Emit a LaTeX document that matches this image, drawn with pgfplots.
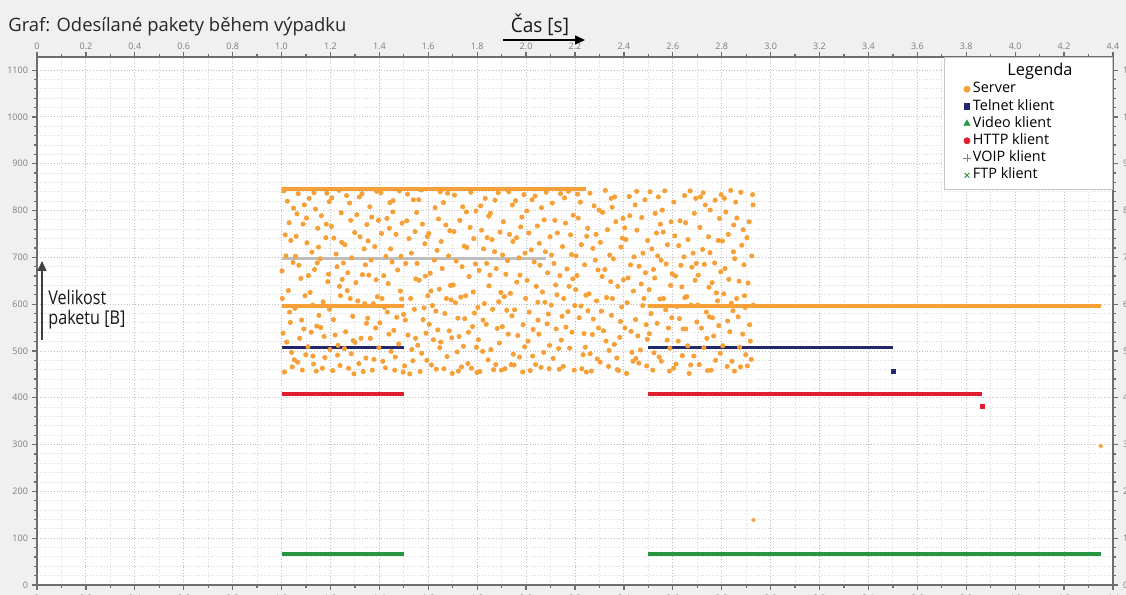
\documentclass[border=0pt]{standalone}
\usepackage{graphicx}
\usepackage{pgfplots}
\pgfplotsset{compat=1.18}
\usepackage{fontspec}
\setmainfont{Open Sans}
\usetikzlibrary{arrows.meta}

\definecolor{srv}{RGB}{247,160,55}
\definecolor{tel}{RGB}{35,40,110}
\definecolor{vid}{RGB}{40,150,65}
\definecolor{htt}{RGB}{225,30,45}
\definecolor{voip}{RGB}{190,190,190}
\definecolor{ftp}{RGB}{40,140,70}
\definecolor{bg}{RGB}{240,240,240}
\definecolor{axgray}{RGB}{110,110,110}
\definecolor{tickgray}{RGB}{125,125,125}

\pgfplotsset{
  common/.style={
    at={(0pt,0pt)}, anchor=south west, scale only axis,
    width=538pt, height=264pt,
    xmin=0, xmax=4.4, ymin=0, ymax=1128,
    axis line style={axgray, line width=1.4pt},
    xtick={0,0.2,0.4,0.6,0.8,1.0,1.2,1.4,1.6,1.8,2.0,2.2,2.4,2.6,2.8,3.0,3.2,3.4,3.6,3.8,4.0,4.2,4.4},
    xticklabels={0,0.2,0.4,0.6,0.8,1.0,1.2,1.4,1.6,1.8,2.0,2.2,2.4,2.6,2.8,3.0,3.2,3.4,3.6,3.8,4.0,4.2,4.4},
    ytick={0,100,200,300,400,500,600,700,800,900,1000,1100},
    yticklabels={0,100,200,300,400,500,600,700,800,900,1000,1100},
    minor x tick num=1, minor y tick num=4,
    tick align=outside, major tick length=2.5pt, minor tick length=1.5pt,
    tick style={axgray, line width=0.6pt},
    ticklabel style={font=\fontsize{4.5}{5}\selectfont, text=tickgray},
    xtick pos=both, ytick pos=both,
  }
}

\begin{document}
\begin{tikzpicture}
\useasboundingbox[fill=bg] (-18.5pt,-5pt) rectangle (544.5pt,292.5pt);
\begin{scope}
\clip (-18.5pt,-5pt) rectangle (544.5pt,292.5pt);

% axis carrying the bottom and right tick labels (cut by the picture edge)
\begin{axis}[common, xticklabel pos=lower, yticklabel pos=right,
  xticklabel style={yshift=1pt}, yticklabel style={xshift=-1pt}]
\addplot[draw=none, forget plot] coordinates {(0,0)};
\end{axis}

\begin{axis}[common,
  xticklabel style={yshift=-2.5pt},
  yticklabel style={xshift=1.5pt},
  xticklabel pos=upper, yticklabel pos=left,
  axis background/.style={fill=white},
  grid=both,
  major grid style={densely dotted, gray!50, line width=0.45pt},
  minor grid style={densely dotted, gray!30, line width=0.45pt},
  legend style={at={(1,1)}, anchor=north east, draw=gray!45, fill=white,
    font=\fontsize{7.2}{8}\selectfont, row sep=0pt,
    nodes={inner sep=0.8pt, text height=5.4pt, text depth=1.6pt},
    inner xsep=2pt, inner ysep=3pt},
  legend cell align=left,
  legend image code/.code={\path (-9pt,0pt) (2pt,0pt); \draw[#1] plot coordinates {(0pt,0pt)};},
]
\addlegendimage{empty legend}\addlegendentry{\makebox[67pt][c]{\fontsize{8.2}{9}\selectfont Legenda}}
\addlegendimage{mark=*, mark size=1.5pt, color=srv}\addlegendentry{Server}
\addlegendimage{mark=square*, mark size=1.4pt, color=tel}\addlegendentry{Telnet klient}
\addlegendimage{mark=triangle*, mark size=1.7pt, color=vid}\addlegendentry{Video klient}
\addlegendimage{mark=*, mark size=1.5pt, color=htt}\addlegendentry{HTTP klient}
\addlegendimage{mark=+, mark size=1.9pt, color=gray}\addlegendentry{VOIP klient}
\addlegendimage{mark=x, mark size=1.7pt, color=ftp}\addlegendentry{FTP klient}

% Server scattered packets
\addplot[only marks, mark=*, mark size=1.05pt, color=srv, forget plot] coordinates {
(1.003,612)(1.031,774)(1.012,455)(1.047,689)(1.006,538)(1.024,820)(1.041,497)(1.018,703)(1.036,561)(1.009,842)(1.028,629)(1.044,466)(1.015,748)(1.033,583)(1.002,671)(1.049,805)(1.021,519)(1.038,736)
(1.052,481)(1.079,655)(1.063,793)(1.091,547)(1.057,702)(1.085,459)(1.068,836)(1.096,618)(1.074,527)(1.055,591)(1.088,771)(1.071,683)(1.099,492)(1.060,745)(1.082,566)(1.093,812)(1.066,476)
(1.104,731)(1.127,598)(1.142,457)(1.113,826)(1.135,674)(1.108,509)(1.148,762)(1.121,540)(1.139,803)(1.117,625)(1.131,472)(1.146,688)(1.102,784)(1.124,711)(1.144,553)(1.110,661)(1.133,838)(1.128,489)
(1.153,576)(1.181,742)(1.167,463)(1.195,819)(1.158,697)(1.174,531)(1.189,648)(1.163,789)(1.198,503)(1.170,605)(1.185,837)(1.151,722)(1.177,486)(1.192,664)(1.160,550)(1.183,771)(1.196,589)
(1.206,827)(1.231,512)(1.248,653)(1.214,741)(1.239,469)(1.202,596)(1.227,680)(1.244,795)(1.219,534)(1.235,843)(1.209,458)(1.241,618)(1.223,707)(1.212,567)(1.246,732)(1.229,491)(1.204,766)(1.237,638)
(1.257,505)(1.283,779)(1.269,629)(1.296,451)(1.253,688)(1.278,816)(1.291,574)(1.262,541)(1.287,699)(1.274,463)(1.299,753)(1.266,832)(1.281,612)(1.259,727)(1.293,522)(1.271,667)(1.285,494)
(1.304,646)(1.329,836)(1.347,559)(1.316,473)(1.338,718)(1.308,791)(1.325,527)(1.343,684)(1.312,607)(1.334,456)(1.349,770)(1.321,744)(1.301,518)(1.340,601)(1.318,829)(1.331,663)(1.345,485)
(1.354,735)(1.378,482)(1.392,616)(1.361,808)(1.385,549)(1.357,662)(1.371,459)(1.396,779)(1.366,694)(1.389,841)(1.352,570)(1.381,723)(1.375,601)(1.398,507)(1.363,527)(1.387,652)(1.369,786)
(1.402,560)(1.427,702)(1.443,817)(1.414,478)(1.436,644)(1.409,751)(1.421,593)(1.448,499)(1.431,783)(1.406,838)(1.418,661)(1.439,536)(1.425,464)(1.446,718)(1.411,612)(1.433,583)(1.441,762)
(1.452,690)(1.479,515)(1.493,773)(1.463,459)(1.486,628)(1.456,821)(1.471,572)(1.497,455)(1.468,749)(1.482,842)(1.459,544)(1.475,673)(1.491,611)(1.465,487)(1.488,702)(1.499,578)(1.455,797)
(1.503,468)(1.528,612)(1.546,755)(1.517,534)(1.539,823)(1.508,687)(1.524,451)(1.543,589)(1.512,778)(1.533,503)(1.549,654)(1.521,740)(1.506,566)(1.537,479)(1.515,835)(1.531,709)(1.548,527)
(1.552,796)(1.579,567)(1.594,480)(1.563,651)(1.586,729)(1.557,512)(1.571,844)(1.598,618)(1.567,456)(1.583,592)(1.554,687)(1.576,771)(1.591,538)(1.561,823)(1.588,660)(1.573,495)(1.596,744)
(1.604,557)(1.628,806)(1.645,632)(1.613,470)(1.636,715)(1.608,666)(1.621,524)(1.642,782)(1.617,597)(1.633,461)(1.649,840)(1.625,694)(1.602,751)(1.639,545)(1.611,628)(1.647,507)(1.631,585)
(1.653,734)(1.677,488)(1.694,609)(1.662,817)(1.686,543)(1.657,676)(1.672,769)(1.698,452)(1.668,580)(1.683,703)(1.651,519)(1.679,837)(1.691,640)(1.664,462)(1.688,757)(1.674,612)(1.696,528)
(1.702,641)(1.729,779)(1.744,510)(1.714,692)(1.736,466)(1.707,833)(1.721,570)(1.747,724)(1.718,498)(1.733,615)(1.705,755)(1.726,531)(1.741,808)(1.711,603)(1.738,680)(1.723,457)(1.749,569)
(1.756,797)(1.781,552)(1.793,686)(1.762,473)(1.786,740)(1.753,618)(1.774,839)(1.797,508)(1.767,659)(1.789,581)(1.758,721)(1.777,463)(1.795,799)(1.764,540)(1.784,626)(1.771,764)(1.799,454)
(1.803,593)(1.826,718)(1.845,481)(1.814,810)(1.837,557)(1.808,672)(1.822,499)(1.848,639)(1.818,758)(1.833,826)(1.805,524)(1.829,601)(1.841,742)(1.811,456)(1.839,687)(1.824,566)(1.847,788)
(1.852,662)(1.876,471)(1.893,754)(1.863,589)(1.886,838)(1.856,503)(1.871,712)(1.897,625)(1.867,460)(1.882,548)(1.854,794)(1.878,676)(1.891,517)(1.861,738)(1.888,605)(1.873,822)(1.899,459)
(1.904,705)(1.927,536)(1.944,812)(1.913,462)(1.936,623)(1.907,776)(1.921,587)(1.948,493)(1.917,664)(1.932,749)(1.903,552)(1.929,840)(1.942,575)(1.911,616)(1.939,471)(1.924,693)(1.946,734)
(1.953,588)(1.978,765)(1.994,509)(1.962,647)(1.986,455)(1.957,821)(1.971,699)(1.998,612)(1.966,533)(1.983,786)(1.951,470)(1.975,662)(1.991,834)(1.961,742)(1.988,556)(1.973,487)(1.996,709)
(2.004,651)(2.027,489)(2.046,767)(2.013,583)(2.037,831)(2.008,521)(2.021,716)(2.048,604)(2.017,458)(2.033,690)(2.003,799)(2.029,546)(2.042,638)(2.011,752)(2.039,471)(2.024,823)(2.049,566)
(2.054,730)(2.077,604)(2.094,462)(2.063,806)(2.086,558)(2.057,683)(2.072,497)(2.098,744)(2.067,626)(2.082,839)(2.052,536)(2.079,712)(2.091,579)(2.061,465)(2.088,667)(2.074,780)(2.096,512)
(2.103,598)(2.128,752)(2.144,523)(2.114,687)(2.136,461)(2.107,816)(2.121,641)(2.147,574)(2.118,779)(2.133,505)(2.104,705)(2.126,620)(2.141,836)(2.111,484)(2.138,661)(2.123,547)(2.149,723)
(2.152,467)(2.176,638)(2.193,790)(2.163,551)(2.186,706)(2.157,827)(2.171,584)(2.197,459)(2.167,675)(2.182,748)(2.154,612)(2.178,506)(2.191,654)(2.161,773)(2.188,540)(2.173,841)(2.199,597)
(2.204,703)(2.228,462)(2.245,619)(2.213,784)(2.237,537)(2.208,661)(2.222,818)(2.248,745)(2.217,571)(2.233,492)(2.203,631)(2.226,727)(2.242,508)(2.211,835)(2.239,684)(2.224,596)(2.246,455)
(2.253,586)(2.278,810)(2.294,673)(2.262,494)(2.286,749)(2.257,622)(2.271,535)(2.298,801)(2.267,457)(2.283,694)(2.252,762)(2.275,568)(2.291,483)(2.261,837)(2.288,607)(2.273,719)(2.296,549)
(2.304,732)(2.327,521)(2.346,648)(2.313,796)(2.337,467)(2.308,585)(2.322,674)(2.348,826)(2.317,543)(2.333,759)(2.303,476)(2.329,614)(2.342,705)(2.311,659)(2.339,501)(2.324,843)(2.349,576)
(2.353,612)(2.378,458)(2.394,741)(2.362,829)(2.386,563)(2.357,697)(2.371,485)(2.398,652)(2.367,776)(2.383,529)(2.352,807)(2.375,638)(2.391,594)(2.361,514)(2.388,722)(2.373,460)(2.396,783)
(2.404,549)(2.427,684)(2.446,812)(2.413,603)(2.437,478)(2.408,738)(2.422,830)(2.448,567)(2.417,656)(2.433,497)(2.403,763)(2.429,542)(2.442,701)(2.411,452)(2.439,628)(2.424,789)(2.449,484)
(2.453,758)(2.477,597)(2.493,468)(2.462,681)(2.486,823)(2.457,532)(2.471,643)(2.497,736)(2.467,502)(2.482,612)(2.452,841)(2.478,709)(2.491,556)(2.461,474)(2.488,667)(2.473,785)(2.496,525)
(2.503,631)(2.528,794)(2.544,487)(2.514,718)(2.536,559)(2.507,840)(2.521,674)(2.547,611)(2.518,459)(2.533,752)(2.504,537)(2.526,656)(2.541,829)(2.511,580)(2.538,703)(2.523,496)(2.549,771)
(2.552,694)(2.577,523)(2.593,776)(2.562,612)(2.586,457)(2.557,801)(2.571,588)(2.597,665)(2.567,842)(2.582,549)(2.553,478)(2.578,727)(2.591,640)(2.561,754)(2.588,506)(2.573,686)(2.596,571)
(2.604,818)(2.627,569)(2.646,701)(2.613,472)(2.637,637)(2.608,746)(2.622,521)(2.648,832)(2.617,595)(2.633,683)(2.603,463)(2.629,778)(2.642,547)(2.611,660)(2.639,490)(2.624,725)(2.649,614)
(2.653,547)(2.678,679)(2.694,826)(2.662,738)(2.686,489)(2.657,616)(2.671,842)(2.698,562)(2.667,452)(2.683,709)(2.652,774)(2.675,598)(2.691,651)(2.661,511)(2.688,794)(2.673,470)(2.696,687)
(2.704,662)(2.727,507)(2.746,744)(2.713,829)(2.737,583)(2.708,471)(2.722,717)(2.748,636)(2.717,549)(2.733,812)(2.703,598)(2.729,685)(2.742,458)(2.711,764)(2.739,527)(2.724,838)(2.749,573)
(2.753,801)(2.778,624)(2.794,495)(2.762,571)(2.786,736)(2.757,459)(2.771,688)(2.798,834)(2.767,532)(2.783,607)(2.752,710)(2.775,480)(2.791,783)(2.761,646)(2.788,554)(2.773,822)(2.796,669)
(2.804,511)(2.827,749)(2.846,586)(2.813,676)(2.837,843)(2.808,622)(2.822,467)(2.848,712)(2.817,797)(2.833,541)(2.803,735)(2.829,653)(2.842,478)(2.811,826)(2.839,602)(2.824,564)(2.849,769)
(2.853,697)(2.877,466)(2.893,618)(2.862,784)(2.886,536)(2.857,818)(2.871,649)(2.898,492)(2.867,573)(2.882,726)(2.852,457)(2.878,839)(2.891,684)(2.861,612)(2.888,759)(2.873,508)(2.896,593)
(2.903,742)(2.917,521)(2.926,834)(2.908,645)(2.921,482)(2.912,776)(2.929,598)(2.905,468)(2.923,703)(2.914,556)(2.928,812)
};
% Server single packets
\addplot[only marks, mark=*, mark size=0.9pt, color=srv, forget plot] coordinates {(4.35,297)(2.93,139)};

% Video klient
\addplot[vid, line width=2pt, forget plot] coordinates {(1.0,66)(1.5,66)};
\addplot[vid, line width=2pt, forget plot] coordinates {(2.5,66)(4.35,66)};
% HTTP klient
\addplot[htt, line width=2pt, forget plot] coordinates {(1.0,408)(1.5,408)};
\addplot[htt, line width=2pt, forget plot] coordinates {(2.5,408)(3.865,408)};
\addplot[only marks, mark=square*, mark size=0.9pt, color=htt, forget plot] coordinates {(3.865,382)};
% Telnet klient
\addplot[tel, line width=1.6pt, forget plot] coordinates {(1.0,508)(1.5,508)};
\addplot[tel, line width=1.6pt, forget plot] coordinates {(2.5,508)(3.5,508)};
\addplot[only marks, mark=square*, mark size=1pt, color=tel, forget plot] coordinates {(3.5,457)};
% VOIP klient
\addplot[voip, line width=1.5pt, forget plot] coordinates {(1.0,697)(2.08,697)};
% Server lines
\addplot[srv, line width=2pt, forget plot] coordinates {(1.0,845)(2.245,845)};
\addplot[srv, line width=2pt, forget plot] coordinates {(1.0,595)(1.5,595)};
\addplot[srv, line width=2pt, forget plot] coordinates {(2.5,595)(4.35,595)};
\end{axis}
\end{scope}

% annotations
\node[anchor=base west, font=\fontsize{9.2}{11}\selectfont, text=black!85, inner sep=0pt] at (-14.5pt,276.5pt) {Graf: Odesílané pakety během výpadku};
\node[anchor=base, font=\fontsize{10}{12}\selectfont, text=black!90, inner sep=0pt] at (251.5pt,276pt) {\scalebox{0.95}[1]{Čas [s]}};
\draw[black, line width=0.75pt, -{Triangle[length=5pt,width=4.5pt]}] (233pt,272.5pt) -- (274pt,272.5pt);
\draw[black!75, line width=0.75pt, -{Triangle[length=5pt,width=4.5pt]}] (2.5pt,122.5pt) -- (2.5pt,162pt);
\node[anchor=base west, font=\fontsize{9.5}{11}\selectfont, text=black!90, inner sep=0pt] at (5.5pt,140pt) {\scalebox{0.85}[1]{Velikost}};
\node[anchor=base west, font=\fontsize{9.5}{11}\selectfont, text=black!90, inner sep=0pt] at (5.5pt,130pt) {\scalebox{0.85}[1]{paketu [B]}};
\end{tikzpicture}
\end{document}
